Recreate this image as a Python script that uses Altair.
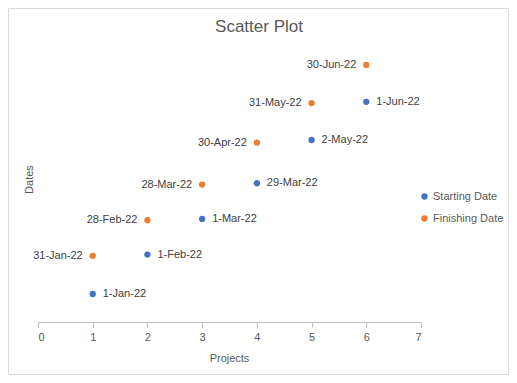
import altair as alt
import pandas as pd
from datetime import date

projects = [1, 2, 3, 4, 5, 6]
starting_dates = ["2022-01-01", "2022-02-01", "2022-03-01", "2022-03-29", "2022-05-02", "2022-06-01"]
finishing_dates = ["2022-01-31", "2022-02-28", "2022-03-28", "2022-04-30", "2022-05-31", "2022-06-30"]
series_names = ["Starting Date", "Finishing Date"]
series_colors = ["#4472C4", "#ED7D31"]
x_ticks = [0, 1, 2, 3, 4, 5, 6, 7]


def fmt(s):
    d = date.fromisoformat(s)
    return f"{d.day}-{d.strftime('%b-%y')}"


rows = []
for p, s, f in zip(projects, starting_dates, finishing_dates):
    rows.append({"Projects": p, "Dates": s, "Series": series_names[0], "Label": fmt(s)})
    rows.append({"Projects": p, "Dates": f, "Series": series_names[1], "Label": fmt(f)})
df = pd.DataFrame(rows)

FONT = "Liberation Sans"

x_enc = alt.X(
    "Projects:Q",
    scale=alt.Scale(domain=[0, 7], nice=False),
    axis=alt.Axis(
        values=x_ticks, format="d", grid=False, title="Projects", domainColor="#bfbfbf", tickColor="#bfbfbf",
        tickSize=5, labelPadding=4, labelColor="#595959", labelFontSize=11, labelFont=FONT,
        titleFont=FONT, titleFontSize=11, titleFontWeight="normal", titleColor="#595959",
        titleX=191, titleY=36, titleBaseline="middle", titleAlign="center",
    ),
)
y_enc = alt.Y(
    "Dates:T",
    scale=alt.Scale(domain=[alt.DateTime(year=2021, month=12, date=10, utc=True),
                            alt.DateTime(year=2022, month=7, date=18, utc=True)], nice=False),
    axis=alt.Axis(
        domain=False, ticks=False, labels=False, grid=False, title="Dates",
        titleFont=FONT, titleFontSize=11, titleFontWeight="normal", titleColor="#595959",
        titleX=-9, titleY=137, titleBaseline="middle", titleAlign="center", titleAngle=-90,
    ),
)

base = alt.Chart(df)

points = base.mark_point(filled=True, opacity=1, size=40).encode(
    x=x_enc,
    y=y_enc,
    color=alt.Color(
        "Series:N",
        scale=alt.Scale(domain=series_names, range=series_colors),
        legend=alt.Legend(
            title=None, orient="none", legendX=381, legendY=149, labelFont=FONT,
            labelFontSize=11, labelColor="#595959", symbolSize=40, symbolType="circle",
            labelOffset=3, rowPadding=10, padding=0,
        ),
    ),
)

labels_start = base.transform_filter(alt.datum.Series == series_names[0]).mark_text(
    align="left", baseline="middle", dx=10, font=FONT, fontSize=11, color="#404040"
).encode(x="Projects:Q", y="Dates:T", text="Label:N")

labels_finish = base.transform_filter(alt.datum.Series == series_names[1]).mark_text(
    align="right", baseline="middle", dx=-10, font=FONT, fontSize=11, color="#404040"
).encode(x="Projects:Q", y="Dates:T", text="Label:N")

border = alt.Chart(pd.DataFrame({"a": [0]})).mark_rect(
    fill=None, stroke="#d9d9d9", strokeWidth=1
).encode(x=alt.value(-29.5), x2=alt.value(470.5), y=alt.value(-33.5), y2=alt.value(332.5))

title = alt.Chart(pd.DataFrame({"a": [0]})).mark_text(
    font=FONT, fontSize=17, color="#595959", align="center", baseline="middle"
).encode(x=alt.value(221), y=alt.value(-15), text=alt.value("Scatter Plot"))

chart = alt.layer(border, title, points, labels_start, labels_finish).properties(
    width=383, height=280,
    autosize=alt.AutoSizeParams(type="none"),
    padding={"left": 30, "top": 34, "right": 88, "bottom": 53},
).configure_view(stroke=None)

chart.save("out.html", embed_options={"renderer": "svg", "actions": False})
